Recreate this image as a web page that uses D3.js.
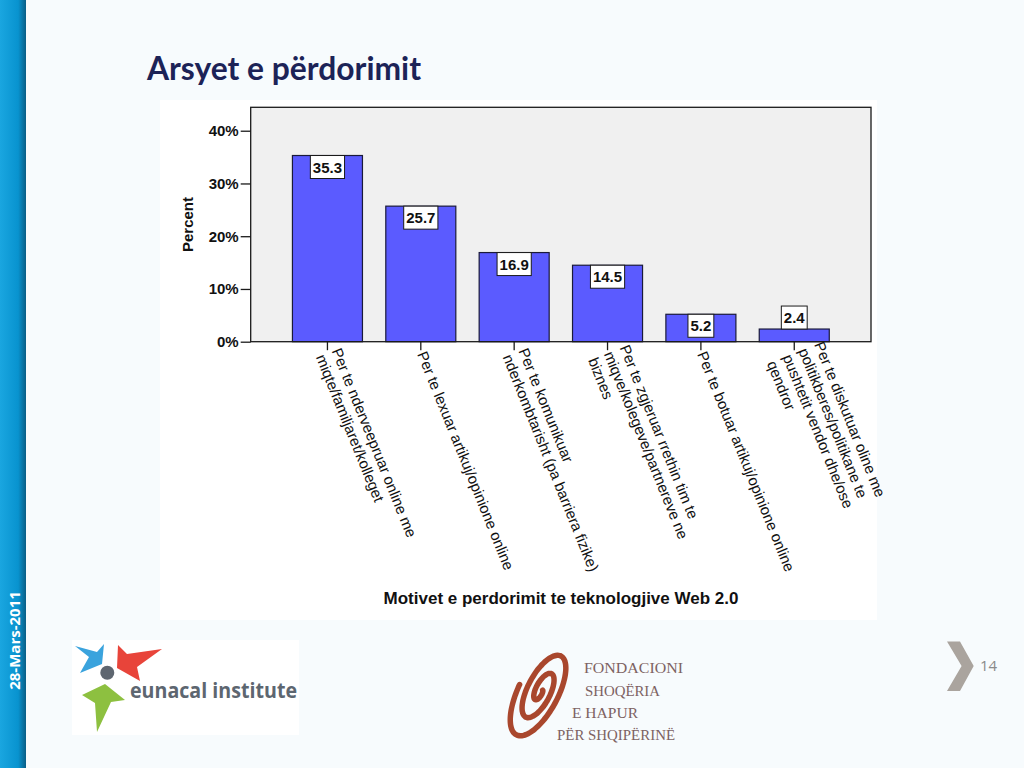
<!DOCTYPE html>
<html>
<head>
<meta charset="utf-8">
<script src="https://cdn.jsdelivr.net/npm/d3@7"></script>
<style>
  body { margin: 0; background: #f7fbfd; }
  svg { display: block; }
</style>
</head>
<body>
<div id="chart"></div>
<script>
// data
var categories = [
    ["Per te nderveepruar online me", "miqte/familjaret/kolleget"],
    ["Per te lexuar artikuj/opinione online"],
    ["Per te komunikuar", "nderkombtarisht (pa barriera fizike)"],
    ["Per te zgjeruar rrethin tim te", "miqve/kolegeve/partnereve ne", "biznes"],
    ["Per te botuar artikuj/opinione online"],
    ["Per te diskutuar oline me", "politikberes/politikane te", "pushtetit vendor dhe/ose", "qendror"]
];
var percents = [35.3, 25.7, 16.9, 14.5, 5.2, 2.4];
var yTicks = [0, 10, 20, 30, 40];

var svgWidth = 1024;
var svgHeight = 768;

var plot = { left: 250.7, top: 107.3, right: 871, bottom: 341.7 };

var svg = d3.select("#chart")
    .append("svg")
    .attr("width", svgWidth)
    .attr("height", svgHeight);

// slide background + blue side bar
var defs = svg.append("defs");
var grad = defs.append("linearGradient").attr("id", "sidebar")
    .attr("x1", "0").attr("x2", "1").attr("y1", "0").attr("y2", "0");
grad.append("stop").attr("offset", "0").attr("stop-color", "#1aa6e0");
grad.append("stop").attr("offset", "0.7").attr("stop-color", "#0893cf");
grad.append("stop").attr("offset", "1").attr("stop-color", "#0a5e86");

svg.append("rect").attr("width", svgWidth).attr("height", svgHeight).attr("fill", "#f7fbfd");
svg.append("rect").attr("width", 26).attr("height", svgHeight).attr("fill", "url(#sidebar)");

svg.append("text")
    .attr("transform", "translate(19.5, 640.5) rotate(-90)")
    .attr("text-anchor", "middle")
    .attr("font-family", "'Open Sans', sans-serif")
    .attr("font-weight", "bold")
    .attr("font-size", "15px")
    .attr("fill", "#ffffff")
    .text("28-Mars-2011");

// title
svg.append("text")
    .attr("x", 147)
    .attr("y", 80)
    .attr("font-family", "Lato, 'Open Sans', sans-serif")
    .attr("font-weight", "bold")
    .attr("font-size", "32px")
    .attr("fill", "#1c2357")
    .attr("textLength", 274)
    .attr("lengthAdjust", "spacingAndGlyphs")
    .text("Arsyet e përdorimit");

// white chart panel
svg.append("rect")
    .attr("x", 160).attr("y", 100)
    .attr("width", 717).attr("height", 520)
    .attr("fill", "#ffffff");

// scales
var xBand = d3.scaleBand()
    .domain(d3.range(categories.length))
    .range([plot.left, plot.right])
    .paddingInner(0.25)
    .paddingOuter(0.447);

var yLinear = d3.scaleLinear()
    .domain([0, 44.44])
    .range([plot.bottom, plot.top]);

// plot background
svg.append("rect")
    .attr("x", plot.left).attr("y", plot.top)
    .attr("width", plot.right - plot.left)
    .attr("height", plot.bottom - plot.top)
    .attr("fill", "#f0f0f0");

// bars
svg.append("g")
    .selectAll("rect")
    .data(percents)
    .enter()
    .append("rect")
    .attr("x", (d, i) => xBand(i))
    .attr("y", d => yLinear(d))
    .attr("width", xBand.bandwidth())
    .attr("height", d => yLinear(0) - yLinear(d))
    .attr("fill", "#5b5bff")
    .attr("stroke", "#1a1a3a")
    .attr("stroke-width", 1.2);

// frame
svg.append("rect")
    .attr("x", plot.left).attr("y", plot.top)
    .attr("width", plot.right - plot.left)
    .attr("height", plot.bottom - plot.top)
    .attr("fill", "none")
    .attr("stroke", "#1a1a1a")
    .attr("stroke-width", 1.3);

// y axis
var leftAxis = d3.axisLeft(yLinear)
    .tickValues(yTicks)
    .tickSize(10)
    .tickPadding(2)
    .tickFormat(d => d + "%");

var yAxis = svg.append("g")
    .attr("transform", `translate(${plot.left}, 0)`)
    .call(leftAxis);
yAxis.select(".domain").remove();
yAxis.selectAll("line").attr("stroke", "#1a1a1a").attr("stroke-width", 1.3);
yAxis.selectAll("text")
    .attr("font-family", "'Liberation Sans', Arial, sans-serif")
    .attr("font-weight", "bold")
    .attr("font-size", "15px")
    .attr("fill", "#111");

svg.append("text")
    .attr("transform", `translate(193, ${(plot.top + plot.bottom) / 2}) rotate(-90)`)
    .attr("text-anchor", "middle")
    .attr("font-family", "'Liberation Sans', Arial, sans-serif")
    .attr("font-weight", "bold")
    .attr("font-size", "15px")
    .attr("fill", "#111")
    .text("Percent");

// x ticks
svg.append("g")
    .selectAll("line")
    .data(categories)
    .enter()
    .append("line")
    .attr("x1", (d, i) => xBand(i) + xBand.bandwidth() / 2)
    .attr("x2", (d, i) => xBand(i) + xBand.bandwidth() / 2)
    .attr("y1", plot.bottom)
    .attr("y2", plot.bottom + 8.5)
    .attr("stroke", "#1a1a1a")
    .attr("stroke-width", 1.3);

// x labels rotated
var lineH = 17;
var xLabels = svg.append("g")
    .selectAll("text")
    .data(categories)
    .enter()
    .append("text")
    .attr("transform", (d, i) => `translate(${xBand(i) + xBand.bandwidth() / 2}, ${plot.bottom + 8.5}) rotate(68)`)
    .attr("font-family", "'Liberation Sans', Arial, sans-serif")
    .attr("font-size", "15px")
    .attr("fill", "#111");

xLabels.each(function(lines) {
    var t = d3.select(this);
    lines.forEach(function(line, j) {
        t.append("tspan")
            .attr("x", 2)
            .attr("y", (j - (lines.length - 1) / 2) * lineH + 5)
            .text(line);
    });
});

// x axis title
svg.append("text")
    .attr("x", 561)
    .attr("y", 604)
    .attr("text-anchor", "middle")
    .attr("font-family", "'Liberation Sans', Arial, sans-serif")
    .attr("font-weight", "bold")
    .attr("font-size", "17px")
    .attr("fill", "#111")
    .text("Motivet e perdorimit te teknologjive Web 2.0");

// value labels in boxes
var boxH = 23;
var valueGroups = svg.append("g")
    .selectAll("g")
    .data(percents)
    .enter()
    .append("g");

valueGroups.each(function(d, i) {
    var g = d3.select(this);
    var cx = xBand(i) + xBand.bandwidth() / 2;
    var barH = yLinear(0) - yLinear(d);
    var top = barH >= boxH ? yLinear(d) : yLinear(d) - boxH;
    var rect = g.append("rect")
        .attr("y", top)
        .attr("height", boxH)
        .attr("fill", "#ffffff")
        .attr("stroke", "#1a1a1a")
        .attr("stroke-width", 1);
    var txt = g.append("text")
        .attr("x", cx)
        .attr("y", top + boxH / 2 + 5.5)
        .attr("text-anchor", "middle")
        .attr("font-family", "'Liberation Sans', Arial, sans-serif")
        .attr("font-weight", "bold")
        .attr("font-size", "15px")
        .attr("fill", "#111")
        .text(d.toFixed(1));
    var w = txt.node().getComputedTextLength() + 5;
    rect.attr("x", cx - w / 2).attr("width", w);
});

// eunacal logo
svg.append("rect").attr("x", 72).attr("y", 640).attr("width", 227).attr("height", 95).attr("fill", "#ffffff");
var star = d3.line();
svg.append("path").attr("d", star([[75,646],[97,652],[104,644],[102,664],[80,673],[89,657]]) + "Z").attr("fill", "#3aa3dd");
svg.append("path").attr("d", star([[118,645],[127,654],[162,649],[137,667],[140,681],[117,668]]) + "Z").attr("fill", "#e8443a");
svg.append("path").attr("d", star([[82,695],[105,684],[125,700],[111,702],[97,732],[95,703]]) + "Z").attr("fill", "#8dc040");
svg.append("circle").attr("cx", 107.3).attr("cy", 672.7).attr("r", 7).attr("fill", "#5e6670");
svg.append("text")
    .attr("x", 130).attr("y", 698)
    .attr("font-family", "'Open Sans', sans-serif")
    .attr("font-weight", "bold")
    .attr("font-size", "21px")
    .attr("fill", "#5d6670")
    .attr("textLength", 167)
    .attr("lengthAdjust", "spacingAndGlyphs")
    .text("eunacal institute");

// fondacioni spiral
var spiralPts = d3.range(0, 1.001, 0.005).map(function(p) {
    var a = 1.0 + p * 16.2;
    var r = 3 + p * 52;
    var x = r * Math.cos(a);
    var y = r * 0.4 * Math.sin(a);
    var rot = -62 * Math.PI / 180;
    return [541 + x * Math.cos(rot) - y * Math.sin(rot), 691 + x * Math.sin(rot) + y * Math.cos(rot)];
});
svg.append("path")
    .attr("d", d3.line().curve(d3.curveBasis)(spiralPts))
    .attr("fill", "none")
    .attr("stroke", "#a9472d")
    .attr("stroke-width", 5.5)
    .attr("stroke-linecap", "round");

var fondLines = [
    { t: "FONDACIONI", x: 584, y: 672.7, w: 99 },
    { t: "SHOQËRIA", x: 585, y: 695.6, w: 75 },
    { t: "E HAPUR", x: 572, y: 717.8, w: 66 },
    { t: "PËR SHQIPËRINË", x: 557, y: 739.7, w: 118 }
];
svg.append("g")
    .selectAll("text")
    .data(fondLines)
    .enter()
    .append("text")
    .attr("x", d => d.x)
    .attr("y", d => d.y)
    .attr("font-family", "'Liberation Serif', serif")
    .attr("font-size", "15px")
    .attr("fill", "#7d6262")
    .attr("textLength", d => d.w)
    .attr("lengthAdjust", "spacingAndGlyphs")
    .text(d => d.t);

// page marker
svg.append("path")
    .attr("d", star([[947,641.5],[960,641.5],[973.7,666],[960,691],[947,691],[961.6,666]]) + "Z")
    .attr("fill", "#aaa49e");
svg.append("text")
    .attr("x", 980).attr("y", 671)
    .attr("font-family", "'Open Sans', sans-serif")
    .attr("font-size", "15px")
    .attr("fill", "#8a8a8a")
    .text("14");
</script>
</body>
</html>
